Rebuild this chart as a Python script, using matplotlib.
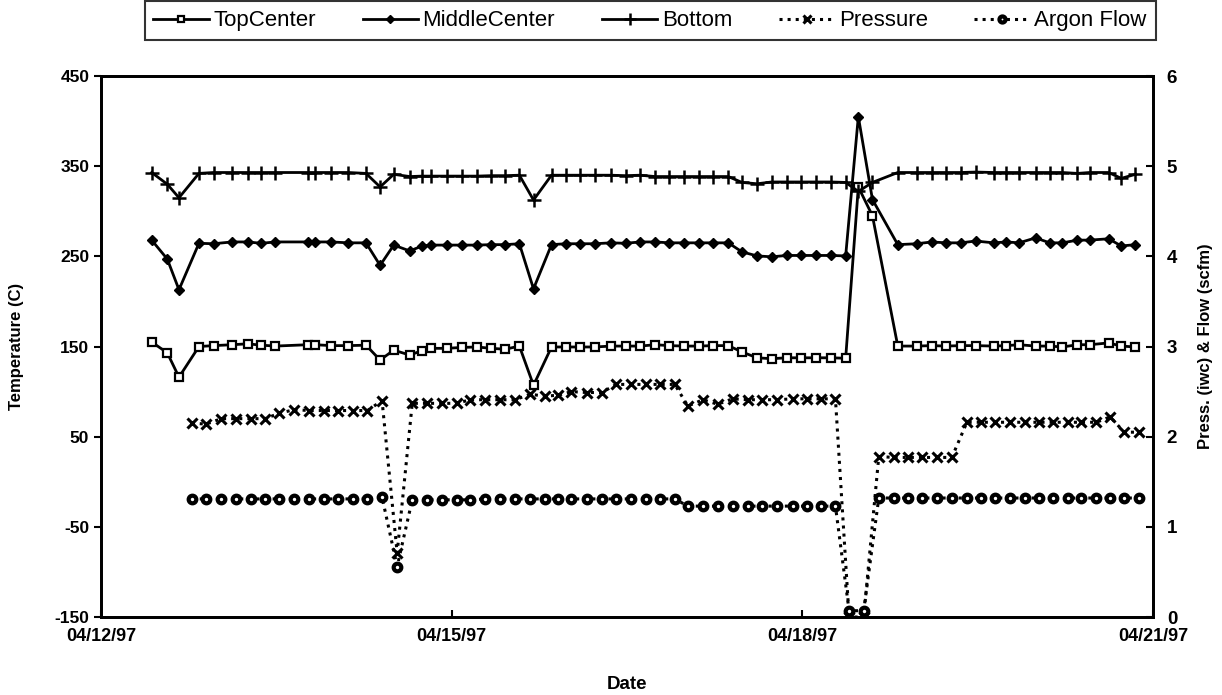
import numpy as np
import pandas as pd
import matplotlib
matplotlib.use("Agg")
import matplotlib.pyplot as plt
import matplotlib.dates as mdates

plt.rcParams['font.family'] = ['Liberation Sans', 'DejaVu Sans']
plt.rcParams['axes.unicode_minus'] = False

start = pd.Timestamp("1997-04-12")

# temperature logger readings, hours after 04/12/97 00:00
temp_hours = [10.4, 13.6, 16.0, 20.1, 23.1, 26.9, 30.1, 32.9, 35.8, 42.4,
              44.0, 47.3, 50.8, 54.4, 57.3, 60.1, 63.4, 65.9, 67.7, 71.0,
              74.1, 77.2, 80.1, 83.0, 85.9, 88.8, 92.5, 95.4, 98.3, 101.4,
              104.7, 107.7, 110.7, 113.8, 116.7, 119.8, 122.7, 125.7, 128.8, 131.6,
              134.7, 137.7, 140.8, 143.8, 146.9, 149.9, 152.9, 155.5, 158.4, 163.6,
              167.5, 170.6, 173.5, 176.5, 179.6, 183.3, 185.9, 188.5, 191.9, 194.8,
              197.4, 200.5, 203.0, 206.9, 209.5, 212.4]

top_center = [155, 143, 116, 150, 151, 152, 153, 151.5, 150.5, 152,
              152, 151, 151, 151.5, 135, 146, 140.5, 145.5, 148, 148,
              149, 149.5, 148, 147, 150.5, 107, 149.5, 149.5, 149.5, 149.5,
              150.5, 150.5, 150.5, 152, 151, 150.5, 150.5, 151, 151, 144,
              137.5, 136.5, 137.5, 137.5, 137.5, 137.5, 137, 327, 295, 150.5,
              150.5, 151, 150.5, 151, 151, 150.5, 151, 152, 150.5, 150.5,
              149.5, 152, 152, 154, 150.5, 149.5]

middle_center = [268, 247, 213, 264.5, 264, 266, 266, 264.5, 266, 266,
                 266, 266, 265, 265, 240, 262.5, 256, 261.5, 262.5, 262.5,
                 262.5, 262.5, 263, 263, 264, 214, 263, 264, 264, 264,
                 265, 264.5, 266, 266, 265, 265, 265, 265, 265, 255,
                 250.5, 249.5, 251, 251, 251, 251, 250.5, 405, 313, 263,
                 264, 266, 265, 265, 267, 265, 266, 265, 270.5, 265,
                 265, 268, 268, 269.5, 261.5, 263]

bottom = [343, 330, 315, 342, 343, 343, 343, 343, 343, 343,
          343, 343, 343, 342, 327, 341, 338.5, 339, 339, 339,
          339, 339, 339.5, 339.5, 340, 312.5, 340, 340, 340, 340,
          340, 339.5, 340, 338.5, 338.5, 338.5, 338.5, 338.5, 338.5, 332,
          330.5, 332.5, 332.5, 332.5, 332.5, 332.5, 332, 322, 332, 343,
          343, 343, 343, 343, 343.5, 343, 343, 343, 343, 343,
          343, 342, 343, 343, 336.5, 341]

# pressure / argon readings, hours after 04/12/97 00:00
flow_hours = [18.6, 21.6, 24.7, 27.8, 30.7, 33.7, 36.6, 39.7, 42.8, 45.7,
              48.7, 51.8, 54.7, 57.7, 60.8, 63.9, 67.0, 70.0, 73.1, 75.8,
              78.9, 82.0, 85.0, 88.1, 91.2, 93.9, 96.6, 99.7, 102.8, 105.8,
              108.9, 112.0, 114.7, 117.8, 120.5, 123.6, 126.6, 129.7, 132.8, 135.8,
              138.9, 142.0, 145.0, 147.8, 150.8, 153.6, 156.6, 159.7, 162.8, 165.7,
              168.6, 171.6, 174.7, 177.8, 180.6, 183.5, 186.6, 189.7, 192.6, 195.5,
              198.6, 201.3, 204.4, 207.2, 210.1, 213.2]

pressure = [2.15, 2.14, 2.20, 2.20, 2.20, 2.20, 2.26, 2.30, 2.29, 2.29,
            2.29, 2.29, 2.29, 2.40, 0.71, 2.37, 2.37, 2.37, 2.37, 2.41,
            2.41, 2.41, 2.41, 2.47, 2.45, 2.46, 2.50, 2.49, 2.49, 2.58,
            2.58, 2.58, 2.58, 2.58, 2.34, 2.41, 2.36, 2.42, 2.41, 2.41,
            2.41, 2.42, 2.42, 2.42, 2.42, 0.0, 0.0, 1.78, 1.77, 1.77,
            1.77, 1.77, 1.77, 2.16, 2.16, 2.16, 2.16, 2.16, 2.16, 2.16,
            2.16, 2.16, 2.16, 2.22, 2.05, 2.05]

argon_flow = [1.31, 1.31, 1.31, 1.31, 1.31, 1.31, 1.31, 1.31, 1.31, 1.31,
              1.31, 1.31, 1.31, 1.33, 0.56, 1.30, 1.30, 1.30, 1.30, 1.30,
              1.31, 1.31, 1.31, 1.31, 1.31, 1.31, 1.31, 1.31, 1.31, 1.31,
              1.31, 1.31, 1.31, 1.31, 1.23, 1.23, 1.23, 1.23, 1.23, 1.23,
              1.23, 1.23, 1.23, 1.23, 1.23, 0.07, 0.07, 1.32, 1.32, 1.32,
              1.32, 1.32, 1.32, 1.32, 1.32, 1.32, 1.32, 1.32, 1.32, 1.32,
              1.32, 1.32, 1.32, 1.32, 1.32, 1.32]

date_ticks = ["1997-04-12", "1997-04-15", "1997-04-18", "1997-04-21"]

t_temp = start + pd.to_timedelta(temp_hours, unit="h")
t_flow = start + pd.to_timedelta(flow_hours, unit="h")

fig = plt.figure(figsize=(12.22, 6.95), dpi=100)
ax = fig.add_axes([0.0827, 0.1122, 0.8608, 0.7784])
ax2 = ax.twinx()

h1, = ax.plot(t_temp, top_center, color='black', lw=2, marker='s', ms=6,
              mfc='white', mec='black', mew=1.6, label='TopCenter')
h2, = ax.plot(t_temp, middle_center, color='black', lw=2, marker='D', ms=5,
              mfc='black', mec='black', label='MiddleCenter')
h3, = ax.plot(t_temp, bottom, color='black', lw=2, marker='+', ms=10,
              mew=1.8, label='Bottom')
h4, = ax2.plot(t_flow, pressure, color='black', lw=2.2, ls=':', marker='x',
               ms=7.5, mew=2.2, label='Pressure')
h5, = ax2.plot(t_flow, argon_flow, color='black', lw=2.2, ls=':', marker='o',
               ms=5.5, mfc='white', mec='black', mew=3, label='Argon Flow')

ax.set_ylim(-150, 450)
ax.set_yticks(np.arange(-150, 451, 100))
ax2.set_ylim(0, 6)
ax2.set_yticks(range(7))
ax.set_xlim(pd.Timestamp("1997-04-12"), pd.Timestamp("1997-04-21"))
ax.set_xticks(pd.to_datetime(date_ticks))
ax.xaxis.set_major_formatter(mdates.DateFormatter("%m/%d/%y"))

for a in (ax, ax2):
    for s in a.spines.values():
        s.set_linewidth(2)
        s.set_color('black')
ax.tick_params(axis='y', direction='out', length=5, width=1.5, labelsize=12.5)
ax.tick_params(axis='x', direction='in', length=5, width=1.5, labelsize=13, pad=8)
ax2.tick_params(axis='y', direction='in', length=5, width=1.5, labelsize=13.5, pad=10)
for lab in ax.get_xticklabels() + ax.get_yticklabels() + ax2.get_yticklabels():
    lab.set_fontweight('bold')

ax.set_ylabel("Temperature (C)", fontsize=12, fontweight='bold', labelpad=22)
ax2.set_ylabel("Press. (iwc) & Flow (scfm)", fontsize=12, fontweight='bold', labelpad=15)
ax.set_xlabel("Date", fontsize=13.5, fontweight='bold', labelpad=22)

leg = fig.legend([h1, h2, h3, h4, h5],
                 ['TopCenter', 'MiddleCenter', 'Bottom', 'Pressure', 'Argon Flow'],
                 ncol=5, loc='center', bbox_to_anchor=(0.532, 0.970),
                 fontsize=16, frameon=True, fancybox=False, handlelength=2.5,
                 handletextpad=0.2, columnspacing=2.1, borderpad=0.4,
                 markerscale=0.8)
leg.get_frame().set_edgecolor('black')
leg.get_frame().set_linewidth(1.5)

fig.savefig("out.png", dpi=100)
